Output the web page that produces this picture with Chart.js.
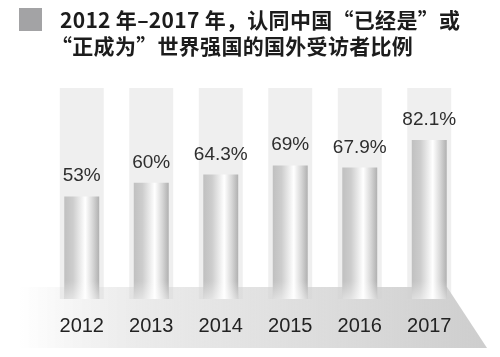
<!DOCTYPE html>
<html>
<head>
<meta charset="utf-8">
<script src="https://cdn.jsdelivr.net/npm/chart.js@4"></script>
<style>
  html, body { margin: 0; padding: 0; background: #fff; }
  #wrap { position: relative; width: 500px; height: 357px; overflow: hidden; }
  #sq { position: absolute; left: 19px; top: 8px; width: 23px; height: 23px; background: #a3a3a5; }
  #title { position: absolute; left: 60px; top: 6px; font-family: "Noto Sans CJK SC", "Noto Sans", sans-serif;
           font-weight: 700; font-size: 21px; line-height: 26px; color: #1c1c1c; white-space: nowrap; letter-spacing: 0.3px; }
  #title .l2 { margin-left: -9px; }
  canvas { position: absolute; left: 0; top: 0; }
</style>
</head>
<body>
<div id="wrap">
  <canvas id="c" width="500" height="357"></canvas>
  <div id="sq"></div>
  <div id="title">2012 年–2017 年，认同中国“已经是”或<br><span class="l2">“正成为”世界强国的国外受访者比例</span></div>
</div>
<script>
const categories = ["2012", "2013", "2014", "2015", "2016", "2017"];
const values = [53, 60, 64.3, 69, 67.9, 82.1];
const valueLabels = ["53%", "60%", "64.3%", "69%", "67.9%", "82.1%"];
const Y_MAX = 109;

const BAR_FRAC = 0.503;
const TRACK_FRAC = 0.632;

function barGradient(ctx, left, right) {
  const g = ctx.createLinearGradient(left, 0, right, 0);
  g.addColorStop(0, "#c0c0c0");
  g.addColorStop(0.25, "#cdcdcd");
  g.addColorStop(0.6, "#ffffff");
  g.addColorStop(0.82, "#d6d6d6");
  g.addColorStop(1, "#b0b0b0");
  return g;
}

const decor = {
  id: "decor",
  beforeDraw(chart) {
    const { ctx, chartArea, scales } = chart;
    const x = scales.x;
    const step = x.width / categories.length;
    ctx.save();
    ctx.fillStyle = "#efefef";
    categories.forEach((c, i) => {
      const cx = x.getPixelForValue(i);
      const w = step * TRACK_FRAC;
      ctx.fillRect(cx - w / 2, chartArea.top, w, chartArea.bottom - chartArea.top);
    });
    const top = 287, bot = 348;
    const g = ctx.createLinearGradient(20, 0, 480, 0);
    g.addColorStop(0, "rgba(210,210,210,0)");
    g.addColorStop(0.25, "rgba(215,215,215,0.5)");
    g.addColorStop(1, "rgba(206,206,206,1)");
    ctx.fillStyle = g;
    ctx.beginPath();
    ctx.moveTo(20, top);
    ctx.lineTo(447, top);
    ctx.lineTo(487, bot);
    ctx.lineTo(20, bot);
    ctx.closePath();
    ctx.fill();
    ctx.restore();
  },
  afterDatasetsDraw(chart) {
    const { ctx } = chart;
    const meta = chart.getDatasetMeta(0);
    ctx.save();
    meta.data.forEach((el, i) => {
      const w = el.width;
      const fg = ctx.createLinearGradient(0, el.base - 18, 0, el.base);
      fg.addColorStop(0, "rgba(255,255,255,0)");
      fg.addColorStop(1, "rgba(255,255,255,0.45)");
      ctx.fillStyle = fg;
      ctx.fillRect(el.x - w / 2, el.base - 18, w, 18);
      ctx.fillStyle = "#2e2e2e";
      ctx.font = "19px 'Liberation Sans', Arial, sans-serif";
      ctx.textAlign = "center";
      ctx.textBaseline = "alphabetic";
      ctx.fillText(valueLabels[i], el.x, el.y - 15);
    });
    ctx.restore();
  }
};

new Chart(document.getElementById("c"), {
  type: "bar",
  data: {
    labels: categories,
    datasets: [{
      data: values,
      backgroundColor: (c) => {
        const chart = c.chart;
        const x = chart.scales.x;
        if (!x || c.dataIndex === undefined) return "#d0d0d0";
        const cx = x.getPixelForValue(c.dataIndex);
        const w = (x.width / categories.length) * BAR_FRAC;
        if (!isFinite(cx) || !isFinite(w) || w <= 0) return "#d0d0d0";
        return barGradient(chart.ctx, cx - w / 2, cx + w / 2);
      },
      borderWidth: 0,
      barPercentage: BAR_FRAC,
      categoryPercentage: 1.0
    }]
  },
  options: {
    responsive: false,
    animation: false,
    devicePixelRatio: 1,
    layout: { padding: { top: 88, left: 47, right: 36, bottom: 12 } },
    plugins: { legend: { display: false }, tooltip: { enabled: false }, title: { display: false } },
    scales: {
      x: {
        grid: { display: false },
        border: { display: false },
        ticks: { color: "#222", font: { family: "'Liberation Sans', Arial, sans-serif", size: 20 }, padding: 7 }
      },
      y: { display: false, min: 0, max: Y_MAX }
    }
  },
  plugins: [decor]
});
</script>
</body>
</html>
